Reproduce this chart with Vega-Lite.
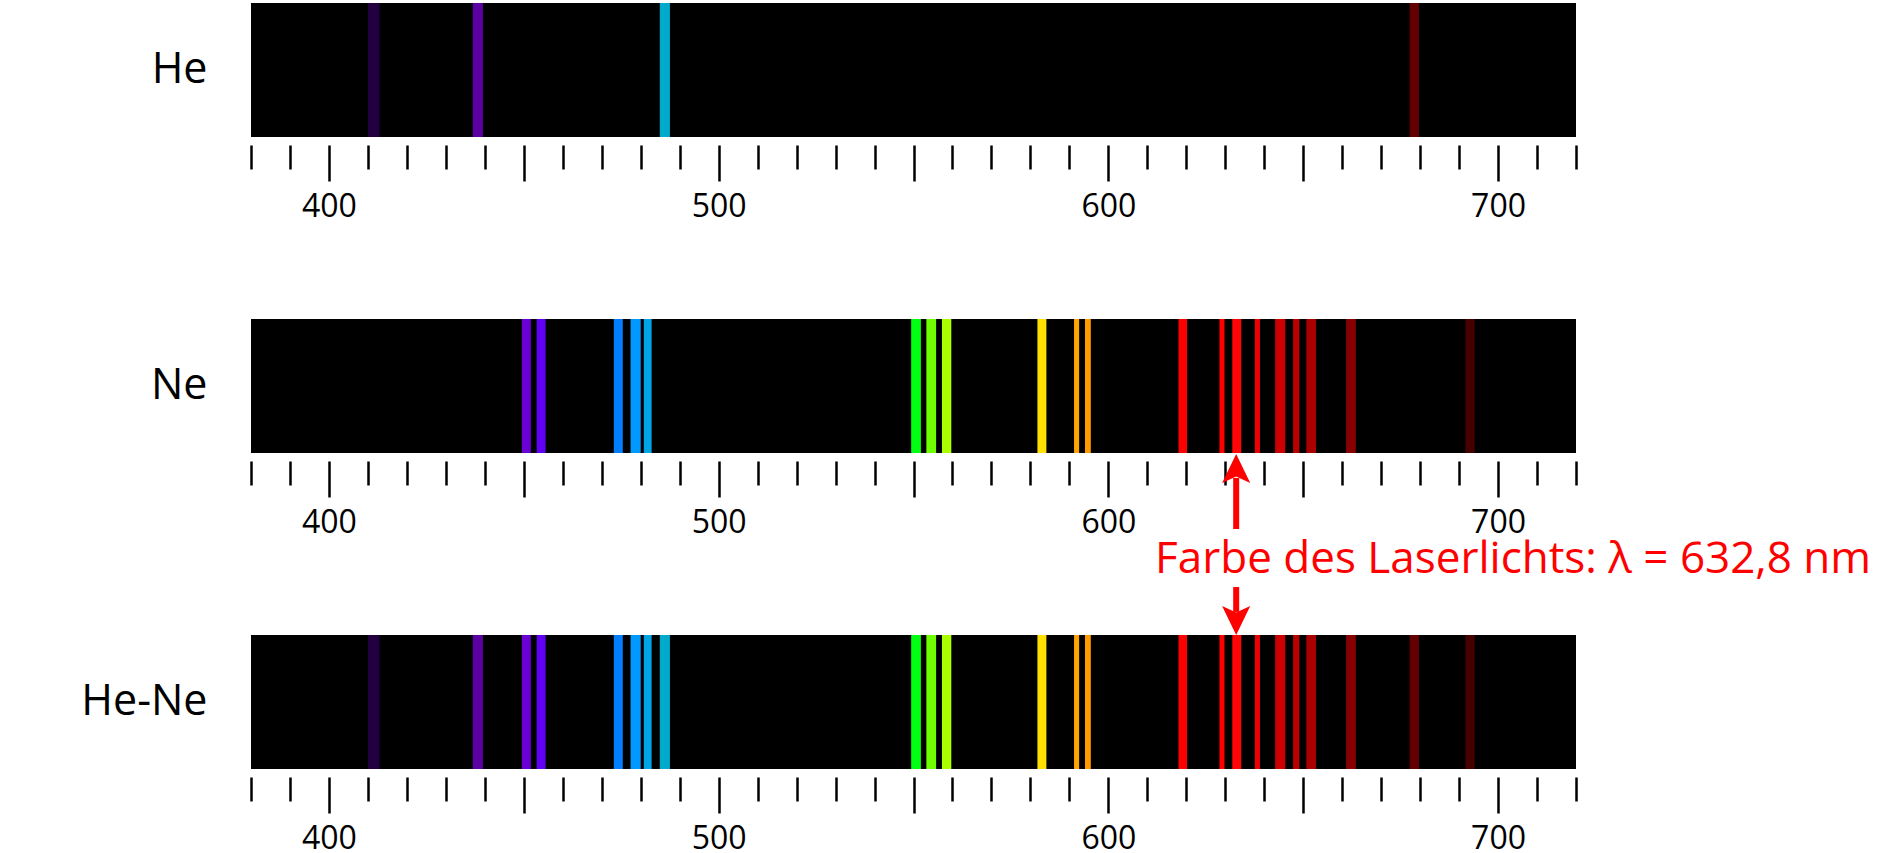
{
  "$schema": "https://vega.github.io/schema/vega-lite/v6.json",
  "padding": {"left": 80, "top": 3, "right": 4, "bottom": 2},
  "background": "white",
  "config": {
    "view": {"fill": "black", "stroke": null},
    "font": "Open Sans"
  },
  "datasets": {
    "laser": [{"nm": 632.8, "label": "Farbe des Laserlichts: λ = 632,8 nm"}],
    "lines": [
      {"gas": "He", "line": "411", "lo": 410.0, "hi": 413.0},
      {"gas": "He", "line": "438", "lo": 436.9, "hi": 439.5},
      {"gas": "He", "line": "486", "lo": 484.9, "hi": 487.5},
      {"gas": "He", "line": "678", "lo": 677.3, "hi": 679.7},
      {"gas": "Ne", "line": "451", "lo": 449.5, "hi": 451.8},
      {"gas": "Ne", "line": "455", "lo": 453.3, "hi": 455.6},
      {"gas": "Ne", "line": "474", "lo": 473.1, "hi": 475.4},
      {"gas": "Ne", "line": "479", "lo": 477.4, "hi": 480.0},
      {"gas": "Ne", "line": "482", "lo": 480.8, "hi": 482.8},
      {"gas": "Ne", "line": "551", "lo": 549.4, "hi": 551.9},
      {"gas": "Ne", "line": "555", "lo": 553.3, "hi": 555.8},
      {"gas": "Ne", "line": "559", "lo": 557.3, "hi": 559.7},
      {"gas": "Ne", "line": "583", "lo": 581.8, "hi": 584.1},
      {"gas": "Ne", "line": "592", "lo": 591.2, "hi": 592.5},
      {"gas": "Ne", "line": "595", "lo": 594.0, "hi": 595.5},
      {"gas": "Ne", "line": "619", "lo": 618.0, "hi": 620.2},
      {"gas": "Ne", "line": "629", "lo": 628.5, "hi": 629.8},
      {"gas": "Ne", "line": "633", "lo": 631.8, "hi": 634.1},
      {"gas": "Ne", "line": "638", "lo": 637.6, "hi": 638.9},
      {"gas": "Ne", "line": "644", "lo": 642.8, "hi": 645.4},
      {"gas": "Ne", "line": "648", "lo": 647.4, "hi": 649.0},
      {"gas": "Ne", "line": "652", "lo": 650.8, "hi": 653.3},
      {"gas": "Ne", "line": "662", "lo": 661.0, "hi": 663.5},
      {"gas": "Ne", "line": "693", "lo": 691.6, "hi": 694.0},
      {"gas": "He-Ne", "line": "411", "lo": 410.0, "hi": 413.0},
      {"gas": "He-Ne", "line": "438", "lo": 436.9, "hi": 439.5},
      {"gas": "He-Ne", "line": "451", "lo": 449.5, "hi": 451.8},
      {"gas": "He-Ne", "line": "455", "lo": 453.3, "hi": 455.6},
      {"gas": "He-Ne", "line": "474", "lo": 473.1, "hi": 475.4},
      {"gas": "He-Ne", "line": "479", "lo": 477.4, "hi": 480.0},
      {"gas": "He-Ne", "line": "482", "lo": 480.8, "hi": 482.8},
      {"gas": "He-Ne", "line": "486", "lo": 484.9, "hi": 487.5},
      {"gas": "He-Ne", "line": "551", "lo": 549.4, "hi": 551.9},
      {"gas": "He-Ne", "line": "555", "lo": 553.3, "hi": 555.8},
      {"gas": "He-Ne", "line": "559", "lo": 557.3, "hi": 559.7},
      {"gas": "He-Ne", "line": "583", "lo": 581.8, "hi": 584.1},
      {"gas": "He-Ne", "line": "592", "lo": 591.2, "hi": 592.5},
      {"gas": "He-Ne", "line": "595", "lo": 594.0, "hi": 595.5},
      {"gas": "He-Ne", "line": "619", "lo": 618.0, "hi": 620.2},
      {"gas": "He-Ne", "line": "629", "lo": 628.5, "hi": 629.8},
      {"gas": "He-Ne", "line": "633", "lo": 631.8, "hi": 634.1},
      {"gas": "He-Ne", "line": "638", "lo": 637.6, "hi": 638.9},
      {"gas": "He-Ne", "line": "644", "lo": 642.8, "hi": 645.4},
      {"gas": "He-Ne", "line": "648", "lo": 647.4, "hi": 649.0},
      {"gas": "He-Ne", "line": "652", "lo": 650.8, "hi": 653.3},
      {"gas": "He-Ne", "line": "662", "lo": 661.0, "hi": 663.5},
      {"gas": "He-Ne", "line": "678", "lo": 677.3, "hi": 679.7},
      {"gas": "He-Ne", "line": "693", "lo": 691.6, "hi": 694.0}
    ]
  },
  "bounds": "flush",
  "spacing": 182,
  "vconcat": [
    {
      "width": 1325,
      "height": 134,
      "data": {"name": "lines"},
      "transform": [{"filter": "datum.gas === 'He'"}],
      "mark": {"type": "rect"},
      "encoding": {
        "x": {"field": "lo", "type": "quantitative", "scale": {"domain": [380, 720], "nice": false, "zero": false},
          "axis": {"title": null, "values": [380,390,400,410,420,430,440,450,460,470,480,490,500,510,520,530,540,550,560,570,580,590,600,610,620,630,640,650,660,670,680,690,700,710,720],
            "domain": false, "grid": false, "tickColor": "black", "tickWidth": 2.5,
            "tickSize": {"condition": {"test": "datum.value % 50 === 0", "value": 36}, "value": 24},
            "offset": 8, "labelExpr": "datum.value % 100 === 0 ? datum.label : ''",
            "labelFont": "Open Sans", "labelFontSize": 32, "labelColor": "black", "labelPadding": 10, "labelOverlap": false, "labelFlush": false}},
        "x2": {"field": "hi"},
        "y": {"field": "gas", "type": "nominal", "scale": {"paddingInner": 0, "paddingOuter": 0},
          "axis": {"title": null, "domain": false, "ticks": false, "labelFont": "Open Sans", "labelFontSize": 43, "labelColor": "black", "labelPadding": 44}},
        "color": {"field": "line", "type": "nominal", "legend": null,
          "scale": {"domain": ["411","438","486","678","451","455","474","479","482","551","555","559","583","592","595","619","629","633","638","644","648","652","662","693"],
            "range": ["#22003f","#5b00a3","#00aacc","#620000","#6a00d6","#6000f5","#0080ff","#0099ff","#00a5e6","#00ff10","#70ff00","#aaff00","#ffe000","#ffa500","#ff9a00","#ff0000","#ff0000","#ff0505","#f00000","#cc0000","#b80000","#aa0000","#880000","#460000"]}}
      }
    },
    {
      "width": 1325,
      "height": 134,
      "data": {"name": "lines"},
      "transform": [{"filter": "datum.gas === 'Ne'"}],
      "mark": {"type": "rect"},
      "encoding": {
        "x": {"field": "lo", "type": "quantitative", "scale": {"domain": [380, 720], "nice": false, "zero": false},
          "axis": {"title": null, "values": [380,390,400,410,420,430,440,450,460,470,480,490,500,510,520,530,540,550,560,570,580,590,600,610,620,630,640,650,660,670,680,690,700,710,720],
            "domain": false, "grid": false, "tickColor": "black", "tickWidth": 2.5,
            "tickSize": {"condition": {"test": "datum.value % 50 === 0", "value": 36}, "value": 24},
            "offset": 8, "labelExpr": "datum.value % 100 === 0 ? datum.label : ''",
            "labelFont": "Open Sans", "labelFontSize": 32, "labelColor": "black", "labelPadding": 10, "labelOverlap": false, "labelFlush": false}},
        "x2": {"field": "hi"},
        "y": {"field": "gas", "type": "nominal", "scale": {"paddingInner": 0, "paddingOuter": 0},
          "axis": {"title": null, "domain": false, "ticks": false, "labelFont": "Open Sans", "labelFontSize": 43, "labelColor": "black", "labelPadding": 44}},
        "color": {"field": "line", "type": "nominal", "legend": null,
          "scale": {"domain": ["411","438","486","678","451","455","474","479","482","551","555","559","583","592","595","619","629","633","638","644","648","652","662","693"],
            "range": ["#22003f","#5b00a3","#00aacc","#620000","#6a00d6","#6000f5","#0080ff","#0099ff","#00a5e6","#00ff10","#70ff00","#aaff00","#ffe000","#ffa500","#ff9a00","#ff0000","#ff0000","#ff0505","#f00000","#cc0000","#b80000","#aa0000","#880000","#460000"]}}
      }
    },
    {
      "width": 1325,
      "height": 134,
      "resolve": {"scale": {"y": "independent"}, "axis": {"x": "independent"}},
      "layer": [
        {
          "data": {"name": "lines"},
          "transform": [{"filter": "datum.gas === 'He-Ne'"}],
          "mark": {"type": "rect"},
          "encoding": {
            "x": {"field": "lo", "type": "quantitative", "scale": {"domain": [380, 720], "nice": false, "zero": false},
              "axis": {"title": null, "values": [380,390,400,410,420,430,440,450,460,470,480,490,500,510,520,530,540,550,560,570,580,590,600,610,620,630,640,650,660,670,680,690,700,710,720],
                "domain": false, "grid": false, "tickColor": "black", "tickWidth": 2.5,
                "tickSize": {"condition": {"test": "datum.value % 50 === 0", "value": 36}, "value": 24},
                "offset": 8, "labelExpr": "datum.value % 100 === 0 ? datum.label : ''",
                "labelFont": "Open Sans", "labelFontSize": 32, "labelColor": "black", "labelPadding": 10, "labelOverlap": false, "labelFlush": false}},
            "x2": {"field": "hi"},
            "y": {"field": "gas", "type": "nominal", "scale": {"paddingInner": 0, "paddingOuter": 0},
              "axis": {"title": null, "domain": false, "ticks": false, "labelFont": "Open Sans", "labelFontSize": 43, "labelColor": "black", "labelPadding": 44}},
            "color": {"field": "line", "type": "nominal", "legend": null,
              "scale": {"domain": ["411","438","486","678","451","455","474","479","482","551","555","559","583","592","595","619","629","633","638","644","648","652","662","693"],
                "range": ["#22003f","#5b00a3","#00aacc","#620000","#6a00d6","#6000f5","#0080ff","#0099ff","#00a5e6","#00ff10","#70ff00","#aaff00","#ffe000","#ffa500","#ff9a00","#ff0000","#ff0000","#ff0505","#f00000","#cc0000","#b80000","#aa0000","#880000","#460000"]}}
          }
        },
        {
          "data": {"name": "laser"},
          "mark": {"type": "rule", "color": "#ff0000", "strokeWidth": 6, "strokeCap": "butt"},
          "encoding": {
            "x": {"field": "nm", "type": "quantitative", "axis": null},
            "y": {"datum": 2.172, "type": "quantitative", "scale": {"domain": [0, 1], "nice": false}, "axis": null},
            "y2": {"datum": 1.791}
          }
        },
        {
          "data": {"name": "laser"},
          "mark": {"type": "rule", "color": "#ff0000", "strokeWidth": 6, "strokeCap": "butt"},
          "encoding": {
            "x": {"field": "nm", "type": "quantitative", "axis": null},
            "y": {"datum": 1.358, "type": "quantitative", "scale": {"domain": [0, 1], "nice": false}, "axis": null},
            "y2": {"datum": 1.172}
          }
        },
        {
          "data": {"name": "laser"},
          "mark": {"type": "point", "shape": "M0,-1L0.97,1L0,0.55L-0.97,1Z", "size": 841, "filled": true, "color": "#ff0000", "opacity": 1, "strokeWidth": 0},
          "encoding": {
            "x": {"field": "nm", "type": "quantitative", "axis": null},
            "y": {"datum": 2.2425, "type": "quantitative", "scale": {"domain": [0, 1], "nice": false}, "axis": null}
          }
        },
        {
          "data": {"name": "laser"},
          "mark": {"type": "point", "shape": "M0,1L0.97,-1L0,-0.55L-0.97,-1Z", "size": 841, "filled": true, "color": "#ff0000", "opacity": 1, "strokeWidth": 0},
          "encoding": {
            "x": {"field": "nm", "type": "quantitative", "axis": null},
            "y": {"datum": 1.108, "type": "quantitative", "scale": {"domain": [0, 1], "nice": false}, "axis": null}
          }
        },
        {
          "data": {"name": "laser"},
          "mark": {"type": "text", "font": "Open Sans", "fontSize": 44, "color": "#ff0000", "align": "left", "baseline": "alphabetic"},
          "encoding": {
            "text": {"field": "label"},
            "x": {"datum": 612.0, "type": "quantitative", "axis": null},
            "y": {"datum": 1.4604, "type": "quantitative", "scale": {"domain": [0, 1], "nice": false}, "axis": null}
          }
        }
      ]
    }
  ]
}
